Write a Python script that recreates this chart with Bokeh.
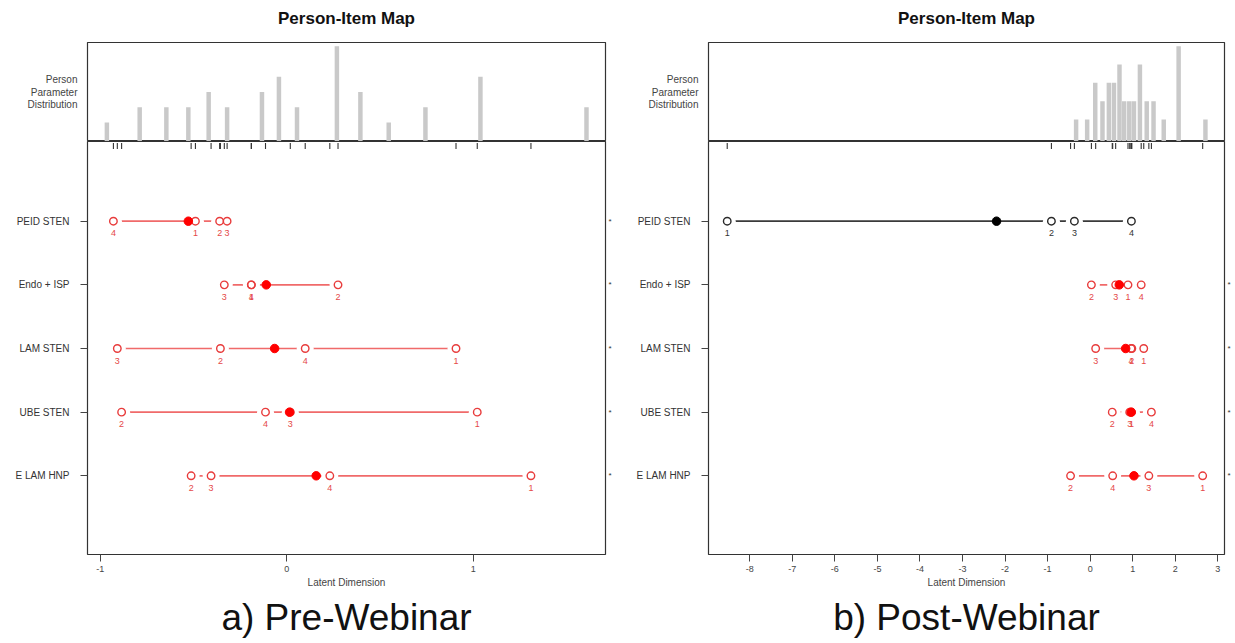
from bokeh.plotting import figure
from bokeh.models import Range1d, FixedTicker, LinearAxis, Title, Spacer
from bokeh.layouts import row, column
from bokeh.embed import file_html
from bokeh.resources import INLINE
from bokeh.core.properties import value

# ---------------- data ----------------
ITEMS = ["PEID STEN", "Endo + ISP", "LAM STEN", "UBE STEN", "E LAM HNP"]
THRESHOLD_LABELS = ["1", "2", "3", "4"]

# Pre-webinar thresholds (per item) and item locations
PRE_T1 = [-0.49, -0.19, 0.908, 1.022, 1.31]
PRE_T2 = [-0.36, 0.275, -0.356, -0.886, -0.513]
PRE_T3 = [-0.32, -0.335, -0.909, 0.019, -0.406]
PRE_T4 = [-0.93, -0.19, 0.099, -0.114, 0.231]
PRE_LOC = [-0.528, -0.11, -0.065, 0.015, 0.158]

# Post-webinar thresholds (per item) and item locations
POST_T1 = [-8.53, 0.89, 1.26, 0.97, 2.645]
POST_T2 = [-0.91, 0.03, 0.98, 0.52, -0.46]
POST_T3 = [-0.37, 0.60, 0.13, 0.93, 1.38]
POST_T4 = [0.97, 1.20, 0.96, 1.44, 0.53]
POST_LOC = [-2.20, 0.685, 0.835, 0.965, 1.03]

# Person parameter distributions
PRE_HIST_X = [-0.965, -0.789, -0.646, -0.528, -0.419, -0.320, -0.133, -0.042,
              0.055, 0.269, 0.395, 0.547, 0.744, 1.039, 1.608]
PRE_HIST_N = [1, 2, 2, 2, 3, 2, 3, 4, 2, 6, 3, 1, 2, 4, 2]
POST_HIST_X = [-0.33, -0.07, 0.12, 0.29, 0.44, 0.56, 0.69, 0.80, 0.92, 1.03,
               1.17, 1.33, 1.49, 1.73, 2.08, 2.71]
POST_HIST_N = [1, 1, 3, 2, 3, 3, 4, 2, 2, 2, 4, 2, 2, 1, 5, 1]

PRE_TICKS = [-1, 0, 1]
PRE_TICK_LABELS = ["-1", "0", "1"]
POST_TICKS = [-8, -7, -6, -5, -4, -3, -2, -1, 0, 1, 2, 3]
POST_TICK_LABELS = ["-8", "-7", "-6", "-5", "-4", "-3", "-2", "-1", "0", "1", "2", "3"]

TITLE = "Person-Item Map"
HIST_LABEL_LINES = ["Person", "Parameter", "Distribution"]
X_LABEL = "Latent Dimension"
CAPTIONS = ["a) Pre-Webinar", "b) Post-Webinar"]

# ---------------- layout constants ----------------
FONT = "Liberation Sans"
H_TOP = 42          # space above the box (title strip)
H_HIST = 99         # histogram frame height
H_ITEMS = 413       # item frame height
B_BOTTOM = 89       # space below the box
ROW_GAP = 63.65
ROW1_FROM_BOTTOM = 78.7
LINE_PX = 12.2      # line spacing of the left histogram label

RED_LINE, RED_PT, RED_DOT, RED_TXT = "#f06a6a", "#e83c3c", "#ff0000", "#e54848"
BLK_LINE, BLK_PT, BLK_DOT, BLK_TXT = "#3a3a3a", "#2a2a2a", "#000000", "#333333"
BOX = "#333333"


def style_common(p):
    p.background_fill_color = "white"
    p.border_fill_color = "white"
    p.outline_line_color = BOX
    p.outline_line_width = 1.2
    p.grid.visible = False


def bare_axis(ax):
    ax.major_tick_in = 0
    ax.minor_tick_out = 0
    ax.minor_tick_in = 0
    ax.axis_line_color = None


def make_panel(thr, loc, hx, hn, x_lo, x_hi, ticks, tick_labels, bar_w, width, bl, br, caption):
    n = len(ITEMS)
    ys = [n - i for i in range(n)]
    xr = Range1d(x_lo, x_hi)

    # ---------- title strip ----------
    pt = figure(width=width, height=H_TOP, x_range=xr, x_axis_location=None, y_axis_location=None,
                output_backend="svg", toolbar_location=None,
                min_border_left=bl, min_border_right=br, min_border_top=0, min_border_bottom=0)
    pt.background_fill_color = "white"
    pt.border_fill_color = "white"
    pt.outline_line_color = None
    pt.grid.visible = False
    pt.title.text = TITLE
    pt.title.align = "center"
    pt.title.text_font = FONT
    pt.title.text_font_size = "17px"
    pt.title.text_font_style = "bold"
    pt.title.text_color = "#111111"
    pt.title.standoff = 12

    # ---------- histogram part ----------
    hmax = max(hn)
    h_lo, h_hi = -0.04 * hmax, 1.04 * hmax
    u = H_HIST / (h_hi - h_lo)
    ph = figure(width=width, height=H_HIST, x_range=xr, y_range=Range1d(h_lo, h_hi),
                x_axis_location=None, output_backend="svg", toolbar_location=None,
                min_border_left=bl, min_border_right=br, min_border_top=0, min_border_bottom=0)
    style_common(ph)
    ph.vbar(x=hx, top=hn, bottom=h_lo, width=bar_w, fill_color="#c9c9c9", line_color=None)
    mid = hmax / 2
    step = round(LINE_PX / u, 2)
    lab_ticks = [round(mid + step, 3), round(mid, 3), round(mid - step, 3)]
    ya = ph.yaxis[0]
    ya.ticker = FixedTicker(ticks=lab_ticks)
    ya.major_label_overrides = {t: s for t, s in zip(lab_ticks, HIST_LABEL_LINES)}
    bare_axis(ya)
    ya.major_tick_out = 0
    ya.major_label_standoff = 10
    ya.major_label_text_font = FONT
    ya.major_label_text_font_size = "10px"
    ya.major_label_text_color = "#444444"

    # ---------- item part ----------
    y0 = 1 - ROW1_FROM_BOTTOM / ROW_GAP
    y1 = y0 + H_ITEMS / ROW_GAP
    p = figure(width=width, height=H_ITEMS + B_BOTTOM, x_range=xr, y_range=Range1d(y0, y1),
               output_backend="svg", toolbar_location=None,
               min_border_left=bl, min_border_right=br, min_border_top=0, min_border_bottom=B_BOTTOM)
    style_common(p)

    # rug of thresholds under the separator
    all_t = [v for t in thr for v in t]
    p.segment(x0=all_t, x1=all_t, y0=[y1 - 1.5 / ROW_GAP] * len(all_t),
              y1=[y1 - 7.5 / ROW_GAP] * len(all_t), line_color=BOX, line_width=1.1)

    star_y = []
    for i in range(n):
        ts = [thr[k][i] for k in range(4)]
        disordered = ts != sorted(ts)
        if disordered:
            star_y.append(ys[i])
            lc, pc, dc, tc = RED_LINE, RED_PT, RED_DOT, RED_TXT
        else:
            lc, pc, dc, tc = BLK_LINE, BLK_PT, BLK_DOT, BLK_TXT
        y = ys[i]
        p.segment(x0=[min(ts)], x1=[max(ts)], y0=[y], y1=[y], line_color=lc, line_width=1.7)
        p.scatter(x=ts, y=[y] * 4, marker="circle", size=17, fill_color="white", line_color=None)
        p.scatter(x=ts, y=[y] * 4, marker="circle", size=7.5, fill_color=None,
                  line_color=pc, line_width=1.4)
        p.scatter(x=[loc[i]], y=[y], marker="circle", size=8.5, fill_color=dc, line_color=dc)
        p.text(x=ts, y=[y] * 4, text=THRESHOLD_LABELS, y_offset=12, text_align="center",
               text_baseline="middle", text_font=value(FONT), text_font_size="9px", text_color=tc)

    # x axis
    xa = p.xaxis[0]
    xa.ticker = FixedTicker(ticks=ticks)
    xa.major_label_overrides = {t: s for t, s in zip(ticks, tick_labels)}
    bare_axis(xa)
    xa.major_tick_out = 7
    xa.major_tick_line_color = "#444444"
    xa.major_label_text_font = FONT
    xa.major_label_text_font_size = "9px"
    xa.major_label_text_color = "#444444"
    xa.major_label_standoff = 4
    xa.axis_label = X_LABEL
    xa.axis_label_text_font = FONT
    xa.axis_label_text_font_size = "10px"
    xa.axis_label_text_font_style = "normal"
    xa.axis_label_text_color = "#444444"
    xa.axis_label_standoff = 2

    # item names on the left
    yl = p.yaxis[0]
    yl.ticker = FixedTicker(ticks=ys)
    yl.major_label_overrides = {y: name for y, name in zip(ys, ITEMS)}
    bare_axis(yl)
    yl.major_tick_out = 7
    yl.major_tick_line_color = "#444444"
    yl.major_label_standoff = 11
    yl.major_label_text_font = FONT
    yl.major_label_text_font_size = "10px"
    yl.major_label_text_color = "#333333"

    # asterisks on the right for items with disordered thresholds
    yr = LinearAxis(ticker=FixedTicker(ticks=star_y),
                    major_label_overrides={y: "*" for y in star_y})
    bare_axis(yr)
    yr.major_tick_out = 0
    yr.major_label_standoff = 3
    yr.major_label_text_font = FONT
    yr.major_label_text_font_size = "8px"
    yr.major_label_text_color = "#333333"
    p.add_layout(yr, "right")

    # caption
    cap = Title(text=caption, align="center", text_font=FONT, text_font_size="37px",
                text_font_style="normal", text_color="#111111", standoff=8)
    p.add_layout(cap, "below")

    return column(pt, ph, p, spacing=0)


left = make_panel([PRE_T1, PRE_T2, PRE_T3, PRE_T4], PRE_LOC, PRE_HIST_X, PRE_HIST_N,
                  -1.069, 1.710, PRE_TICKS, PRE_TICK_LABELS, 0.024, 621, 71, 28, CAPTIONS[0])
right = make_panel([POST_T1, POST_T2, POST_T3, POST_T4], POST_LOC, POST_HIST_X, POST_HIST_N,
                   -8.97, 3.158, POST_TICKS, POST_TICK_LABELS, 0.105, 601, 70, 10, CAPTIONS[1])

layout = row(Spacer(width=12, height=10), left, right, spacing=0)
open("out.html", "w").write(file_html(layout, INLINE))
